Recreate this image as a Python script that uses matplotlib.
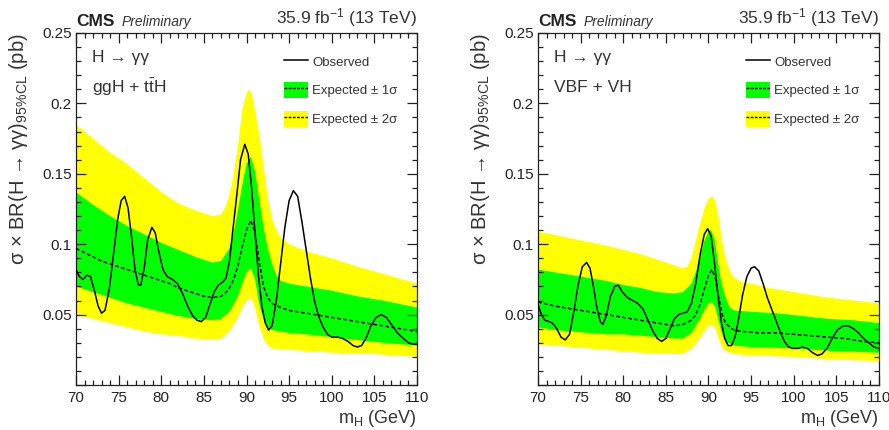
import matplotlib
matplotlib.use("Agg")
import matplotlib.pyplot as plt
from matplotlib.lines import Line2D
from matplotlib.patches import Patch
from matplotlib.ticker import MultipleLocator, FuncFormatter
import numpy as np

plt.rcParams['font.family'] = ['Liberation Sans', 'DejaVu Sans']
plt.rcParams['mathtext.fontset'] = 'custom'
plt.rcParams['mathtext.rm'] = 'Liberation Sans'
plt.rcParams['mathtext.it'] = 'Liberation Sans:italic'

# ---- ggH + ttH (left) ----
obs_m_l = [70.0, 70.4, 70.8, 71.3, 71.7, 72.2, 72.6, 73.0, 73.4, 73.9, 74.4, 74.9, 75.3, 75.7,
           76.1, 76.5, 76.9, 77.3, 77.6, 78.0, 78.4, 78.9, 79.3, 79.7, 80.2, 80.7, 81.3, 81.9,
           82.5, 83.1, 83.7, 84.2, 84.7, 85.2, 85.7, 86.2, 86.7, 87.2, 87.6, 88.0, 88.4, 88.9,
           89.3, 89.8, 90.2, 90.6, 91.0, 91.4, 91.8, 92.2, 92.6, 93.0, 93.5, 94.0, 94.5, 95.0,
           95.5, 96.0, 96.5, 97.0, 97.5, 98.0, 98.5, 99.0, 99.5, 100.0, 100.7, 101.3, 101.9,
           102.5, 103.0, 103.5, 104.0, 104.6, 105.2, 105.8, 106.4, 107.0, 107.7, 108.4, 109.0,
           109.5, 110.0]
obs_l = [0.082, 0.077, 0.075, 0.078, 0.077, 0.066, 0.056, 0.051, 0.053, 0.068, 0.093, 0.118,
         0.131, 0.134, 0.126, 0.106, 0.083, 0.071, 0.071, 0.083, 0.103, 0.112, 0.108, 0.095,
         0.082, 0.077, 0.075, 0.072, 0.065, 0.056, 0.049, 0.046, 0.045, 0.048, 0.057, 0.066,
         0.071, 0.073, 0.076, 0.088, 0.110, 0.137, 0.160, 0.171, 0.164, 0.140, 0.108, 0.078,
         0.056, 0.044, 0.039, 0.042, 0.060, 0.086, 0.112, 0.131, 0.138, 0.134, 0.116, 0.096,
         0.076, 0.059, 0.048, 0.041, 0.036, 0.034, 0.034, 0.033, 0.031, 0.028, 0.027, 0.028,
         0.033, 0.042, 0.048, 0.050, 0.048, 0.043, 0.037, 0.033, 0.030, 0.029, 0.029]

exp_m_l = [70, 71, 72, 73, 74, 75, 76, 77, 78, 79, 80, 81, 82, 83, 84, 85, 86, 87, 87.5, 88,
           88.5, 89, 89.5, 90, 90.5, 91, 91.5, 92, 92.5, 93, 94, 95, 96, 98, 100, 102, 104,
           106, 108, 110]
exp_l = [0.097, 0.094, 0.091, 0.088, 0.086, 0.084, 0.082, 0.080, 0.078, 0.076, 0.074, 0.072,
         0.069, 0.067, 0.065, 0.063, 0.062, 0.063, 0.065, 0.069, 0.075, 0.085, 0.098, 0.110,
         0.117, 0.108, 0.087, 0.070, 0.062, 0.058, 0.055, 0.053, 0.052, 0.050, 0.048, 0.046,
         0.044, 0.042, 0.040, 0.038]

s1u_m_l = [70, 72, 74, 76, 78, 80, 82, 84, 86, 87, 88, 88.5, 89, 89.5, 90, 90.5, 91, 91.5,
           92, 92.5, 93, 93.5, 94, 95, 97, 100, 103, 106, 110]
s1u_l = [0.137, 0.128, 0.120, 0.113, 0.107, 0.101, 0.096, 0.091, 0.087, 0.088, 0.097, 0.108,
         0.124, 0.142, 0.157, 0.162, 0.152, 0.132, 0.112, 0.097, 0.086, 0.078, 0.074, 0.072,
         0.070, 0.067, 0.063, 0.060, 0.055]
s1d_m_l = [70, 72, 74, 76, 78, 80, 82, 84, 86, 87, 88, 89, 89.5, 90, 90.5, 91, 91.5, 92,
           92.5, 93, 95, 97, 100, 103, 106, 110]
s1d_l = [0.070, 0.066, 0.062, 0.058, 0.055, 0.052, 0.049, 0.047, 0.046, 0.047, 0.052, 0.063,
         0.072, 0.080, 0.083, 0.075, 0.057, 0.047, 0.041, 0.039, 0.037, 0.036, 0.034, 0.032,
         0.030, 0.028]
s2u_m_l = [70, 72, 74, 76, 78, 80, 82, 84, 86, 87, 87.5, 88, 88.5, 89, 89.5, 90, 90.3, 90.6,
           91, 91.5, 92, 92.5, 93, 93.5, 94, 95, 97, 100, 103, 106, 110]
s2u_l = [0.185, 0.175, 0.165, 0.157, 0.147, 0.137, 0.129, 0.124, 0.120, 0.121, 0.126, 0.135,
         0.150, 0.170, 0.195, 0.207, 0.210, 0.207, 0.195, 0.178, 0.155, 0.133, 0.118, 0.110,
         0.105, 0.100, 0.095, 0.090, 0.084, 0.079, 0.072]
s2d_m_l = [70, 72, 74, 76, 78, 80, 82, 84, 86, 87, 88, 89, 89.5, 90, 90.5, 91, 91.5, 92,
           92.5, 93, 95, 100, 105, 110]
s2d_l = [0.050, 0.047, 0.044, 0.041, 0.038, 0.036, 0.035, 0.033, 0.032, 0.033, 0.038, 0.048,
         0.055, 0.060, 0.062, 0.055, 0.042, 0.033, 0.028, 0.026, 0.025, 0.023, 0.022, 0.020]

# ---- VBF + VH (right) ----
obs_m_r = [70.0, 70.4, 70.8, 71.3, 71.7, 72.2, 72.7, 73.2, 73.7, 74.2, 74.7, 75.2, 75.7, 76.1,
           76.5, 76.9, 77.3, 77.6, 78.0, 78.5, 79.0, 79.4, 79.9, 80.5, 81.1, 81.7, 82.3, 82.9,
           83.5, 84.0, 84.5, 85.0, 85.5, 86.0, 86.5, 87.0, 87.5, 88.0, 88.5, 89.0, 89.5, 89.9,
           90.3, 90.7, 91.1, 91.5, 91.9, 92.3, 92.7, 93.1, 93.5, 94.0, 94.5, 95.0, 95.4, 95.9,
           96.4, 96.9, 97.4, 97.9, 98.4, 98.9, 99.4, 99.9, 100.5, 101.0, 101.6, 102.2, 102.8,
           103.3, 103.9, 104.5, 105.1, 105.8, 106.4, 107.0, 107.6, 108.2, 108.8, 109.4, 110.0]
obs_r = [0.057, 0.050, 0.046, 0.045, 0.044, 0.040, 0.034, 0.032, 0.036, 0.052, 0.071, 0.084,
         0.087, 0.083, 0.070, 0.055, 0.045, 0.043, 0.049, 0.063, 0.070, 0.071, 0.066, 0.062,
         0.060, 0.058, 0.054, 0.046, 0.038, 0.033, 0.031, 0.033, 0.040, 0.047, 0.050, 0.051,
         0.052, 0.058, 0.072, 0.092, 0.107, 0.111, 0.106, 0.087, 0.064, 0.045, 0.033, 0.028,
         0.028, 0.034, 0.046, 0.064, 0.077, 0.083, 0.084, 0.081, 0.072, 0.062, 0.054, 0.046,
         0.038, 0.031, 0.027, 0.026, 0.026, 0.027, 0.026, 0.023, 0.021, 0.022, 0.026, 0.033,
         0.039, 0.042, 0.042, 0.040, 0.037, 0.033, 0.030, 0.027, 0.026]

exp_m_r = [70, 72, 74, 76, 78, 80, 82, 84, 86, 87, 88, 88.5, 89, 89.5, 90, 90.4, 90.8, 91.2,
           91.6, 92, 92.5, 93, 94, 96, 98, 100, 102, 104, 106, 108, 110]
exp_r = [0.059, 0.056, 0.054, 0.052, 0.050, 0.048, 0.046, 0.044, 0.042, 0.043, 0.046, 0.050,
         0.057, 0.068, 0.078, 0.082, 0.076, 0.062, 0.050, 0.044, 0.041, 0.039, 0.038, 0.037,
         0.037, 0.036, 0.035, 0.034, 0.033, 0.031, 0.030]

s1u_m_r = [70, 72, 74, 76, 78, 80, 82, 84, 86, 87, 88, 88.5, 89, 89.5, 90, 90.3, 90.7, 91.1,
           91.5, 92, 92.5, 93, 95, 98, 101, 104, 107, 110]
s1u_r = [0.082, 0.080, 0.078, 0.076, 0.074, 0.071, 0.069, 0.066, 0.065, 0.066, 0.072, 0.080,
         0.090, 0.102, 0.109, 0.110, 0.104, 0.088, 0.073, 0.062, 0.055, 0.053, 0.052, 0.051,
         0.049, 0.047, 0.046, 0.044]
s1d_m_r = [70, 72, 74, 76, 78, 80, 82, 84, 86, 87, 88, 89, 89.5, 90, 90.4, 90.8, 91.2, 91.6,
           92, 93, 95, 100, 105, 110]
s1d_r = [0.041, 0.039, 0.038, 0.037, 0.036, 0.036, 0.035, 0.034, 0.033, 0.033, 0.037, 0.047,
         0.053, 0.058, 0.059, 0.055, 0.045, 0.036, 0.031, 0.028, 0.027, 0.026, 0.024, 0.023]
s2u_m_r = [70, 74, 78, 82, 86, 87, 87.5, 88, 88.5, 89, 89.5, 90, 90.4, 90.8, 91.2, 91.6, 92,
           92.5, 93, 94, 95, 97, 100, 104, 107, 110]
s2u_r = [0.109, 0.104, 0.099, 0.093, 0.085, 0.083, 0.084, 0.090, 0.102, 0.114, 0.125, 0.132,
         0.134, 0.131, 0.118, 0.102, 0.090, 0.081, 0.076, 0.073, 0.072, 0.069, 0.066, 0.062,
         0.060, 0.058]
s2d_m_r = [70, 74, 78, 82, 86, 87, 88, 89, 89.5, 90, 90.4, 90.8, 91.2, 91.6, 92, 93, 95, 100,
           105, 110]
s2d_r = [0.029, 0.027, 0.025, 0.023, 0.022, 0.022, 0.026, 0.033, 0.038, 0.042, 0.043, 0.040,
         0.033, 0.027, 0.024, 0.022, 0.021, 0.020, 0.018, 0.017]

panels = [
    dict(label="ggH + t$\\bar{\\mathrm{t}}$H", obs=(obs_m_l, obs_l), exp=(exp_m_l, exp_l),
         s1=(s1u_m_l, s1u_l, s1d_m_l, s1d_l), s2=(s2u_m_l, s2u_l, s2d_m_l, s2d_l)),
    dict(label="VBF + VH", obs=(obs_m_r, obs_r), exp=(exp_m_r, exp_r),
         s1=(s1u_m_r, s1u_r, s1d_m_r, s1d_r), s2=(s2u_m_r, s2u_r, s2d_m_r, s2d_r)),
]

GREEN = "#00ff00"
YELLOW = "#ffff00"


def band(ax, b, color):
    mu, up, md, lo = b
    xs = np.r_[np.array(mu, float), np.array(md, float)[::-1]]
    ys = np.r_[np.array(up, float), np.array(lo, float)[::-1]]
    ax.fill(xs, ys, color=color, lw=0, zorder=1)


def yfmt(v, pos):
    if abs(v) < 1e-9:
        return ""
    return "%g" % round(v, 3)


fig = plt.figure(figsize=(8.89, 4.30), dpi=100)
lefts = [76 / 889, 538 / 889]
w = 341 / 889
for p, x0 in zip(panels, lefts):
    ax = fig.add_axes([x0, 45 / 430, w, 352 / 430])
    band(ax, p["s2"], YELLOW)
    band(ax, p["s1"], GREEN)
    ax.plot(*p["exp"], color="black", ls=(0, (2.5, 1.5)), lw=1.1, zorder=3)
    ax.plot(*p["obs"], color="black", lw=1.1, zorder=4)

    ax.set_xlim(70, 110)
    ax.set_ylim(0, 0.25)
    ax.xaxis.set_major_locator(MultipleLocator(5))
    ax.xaxis.set_minor_locator(MultipleLocator(1))
    ax.yaxis.set_major_locator(MultipleLocator(0.05))
    ax.yaxis.set_minor_locator(MultipleLocator(0.01))
    ax.yaxis.set_major_formatter(FuncFormatter(yfmt))
    ax.tick_params(which="both", direction="in", top=True, right=True, labelsize=11,
                   colors="#222222", width=0.9)
    ax.tick_params(which="major", length=7)
    ax.tick_params(which="minor", length=3.5)
    ax.tick_params(axis="x", pad=4)
    ax.tick_params(axis="y", pad=3)
    for s in ax.spines.values():
        s.set_linewidth(0.9)
        s.set_color("#222222")

    ax.set_ylabel("σ × BR(H → γγ)$_{\\mathrm{95\\%CL}}$ (pb)", fontsize=14.5, loc="top",
                  color="#333333")
    ax.yaxis.set_label_coords(-0.135, 1.0)
    ax.set_xlabel("m$_{\\mathrm{H}}$ (GeV)", fontsize=13, loc="right", color="#333333")
    ax.xaxis.set_label_coords(1.0, -0.065)

    ax.text(0.0, 1.012, "CMS", transform=ax.transAxes, fontsize=12.5, fontweight="bold",
            ha="left", va="bottom", color="#222222")
    ax.text(0.135, 1.012, "Preliminary", transform=ax.transAxes, fontsize=10,
            style="italic", ha="left", va="bottom", color="#333333")
    ax.text(1.0, 1.012, "35.9 fb$^{-1}$ (13 TeV)", transform=ax.transAxes, fontsize=12.5,
            ha="right", va="bottom", color="#333333")

    ax.text(0.047, 0.929, "H → γγ", transform=ax.transAxes, fontsize=12.5, ha="left",
            va="center", color="#333333")
    ax.text(0.047, 0.845, p["label"], transform=ax.transAxes, fontsize=12.5, ha="left",
            va="center", color="#333333")

    h_obs = Line2D([], [], color="black", lw=1.1)
    h_1s = (Patch(color=GREEN, lw=0), Line2D([], [], color="black", ls=(0, (2, 1)), lw=1.0))
    h_2s = (Patch(color=YELLOW, lw=0), Line2D([], [], color="black", ls=(0, (2, 1)), lw=1.0))
    ax.legend([h_obs, h_1s, h_2s], ["Observed", "Expected ± 1σ", "Expected ± 2σ"],
              loc="upper left", bbox_to_anchor=(0.595, 0.957), frameon=False, fontsize=9.5,
              handlelength=1.8, handleheight=1.45, labelspacing=1.0, handletextpad=0.3,
              borderaxespad=0, labelcolor="#333333")

fig.savefig("out.png", dpi=100)
